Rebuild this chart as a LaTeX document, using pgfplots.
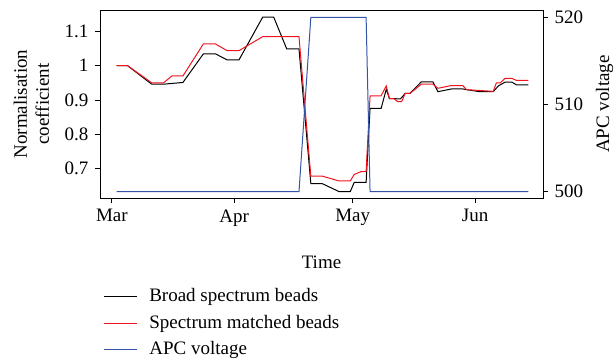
\documentclass[border=0pt]{standalone}
\usepackage{fontspec}
\setmainfont{Liberation Serif}
\usepackage{pgfplots}
\pgfplotsset{compat=1.18}
\definecolor{apcblue}{RGB}{52,84,168}
\definecolor{specred}{RGB}{240,20,30}
\begin{document}
\fontsize{19}{22}\selectfont
\begin{tikzpicture}
\pgfplotsset{
  every axis/.append style={
    width=443pt, height=188pt, scale only axis,
    at={(100pt,-198pt)}, anchor=south west,
    xmin=-3, xmax=109.2,
    /pgf/number format/assume math mode=true,
    tick style={black, line width=0.8pt},
    major tick length=5pt,
    tick align=outside,
    axis line style={line width=0.8pt},
    ticklabel style={font=\fontsize{19}{22}\selectfont},
    label style={font=\fontsize{19}{22}\selectfont},
  }
}
\begin{axis}[
  ymin=0.613, ymax=1.163,
  tick pos=left,
  xtick={0,31,61,92},
  xticklabels={Mar,Apr,May,Jun},
  ytick={0.7,0.8,0.9,1,1.1},
  yticklabels={0.7,0.8,0.9,1,1.1},
  xlabel={Time},
  ylabel={Normalisation\\coefficient},
  ylabel style={align=center, at={(axis description cs:-0.155,0.5)}, anchor=center},
  xlabel style={at={(axis description cs:0.5,-0.34)}, anchor=center},
]
\addplot[black, line width=1pt] coordinates {
(1.2,1.0) (4.0,1.0) (10.1,0.946) (13.1,0.946) (18.0,0.951) (23.2,1.035) (26.2,1.035)
(29.2,1.017) (32.2,1.017) (38.2,1.142) (41.0,1.142) (44.3,1.049) (47.4,1.049)
(50.4,0.655) (53.3,0.655) (57.5,0.632) (60.4,0.632) (61.4,0.659) (64.4,0.659)
(65.4,0.875) (68.2,0.875) (69.5,0.931) (70.3,0.904) (73.1,0.903) (74.3,0.919)
(75.5,0.919) (78.4,0.953) (81.3,0.953) (82.6,0.924) (86.0,0.932) (88.9,0.932)
(89.8,0.930) (93.2,0.924) (96.6,0.924) (97.9,0.941) (99.6,0.952) (101.3,0.952)
(102.5,0.944) (105.5,0.944)
};
\addplot[specred, line width=1pt] coordinates {
(1.2,1.0) (4.0,1.0) (10.1,0.950) (13.1,0.950) (15.2,0.970) (18.0,0.970) (23.2,1.064)
(26.2,1.064) (29.2,1.044) (32.2,1.044) (38.2,1.085) (47.4,1.085)
(50.4,0.677) (53.3,0.677) (57.5,0.663) (60.4,0.663) (61.4,0.682) (63.1,0.690) (64.4,0.690)
(65.4,0.912) (68.2,0.912) (69.5,0.941) (70.3,0.904) (71.4,0.904) (72.4,0.895) (73.4,0.895)
(74.3,0.919) (75.5,0.919) (78.4,0.946) (81.3,0.946) (82.6,0.934) (86.0,0.942) (88.9,0.942)
(89.8,0.930) (96.6,0.925) (97.4,0.950) (98.4,0.950) (99.6,0.963) (101.3,0.963)
(102.5,0.957) (105.5,0.957)
};
\end{axis}
\begin{axis}[
  ymin=499.28, ymax=520.84,
  axis x line=none,
  axis y line*=right,
  ytick={500,510,520},
  ylabel={APC voltage},
  ylabel style={at={(axis description cs:1.139,0.5)}, anchor=center},
  legend style={at={(axis description cs:0.007,-0.47)}, anchor=north west,
    draw=none, fill=none, font=\fontsize{19}{22}\selectfont,
    row sep=6.5pt, column sep=10pt, inner sep=0pt},
  legend cell align=left,
  legend image code/.code={\draw[#1] (0pt,0pt) -- (33pt,0pt);},
]
\addlegendimage{black, line width=1pt}
\addlegendentry{Broad spectrum beads}
\addlegendimage{specred, line width=1pt}
\addlegendentry{Spectrum matched beads}
\addplot[apcblue, line width=1pt] coordinates {
(1.2,500) (47.4,500) (50.4,520) (64.4,520) (65.4,500) (105.5,500)
};
\addlegendentry{APC voltage}
\end{axis}
\pgfresetboundingbox
\path (0,0) rectangle (614pt,-362pt);
\end{tikzpicture}
\end{document}
